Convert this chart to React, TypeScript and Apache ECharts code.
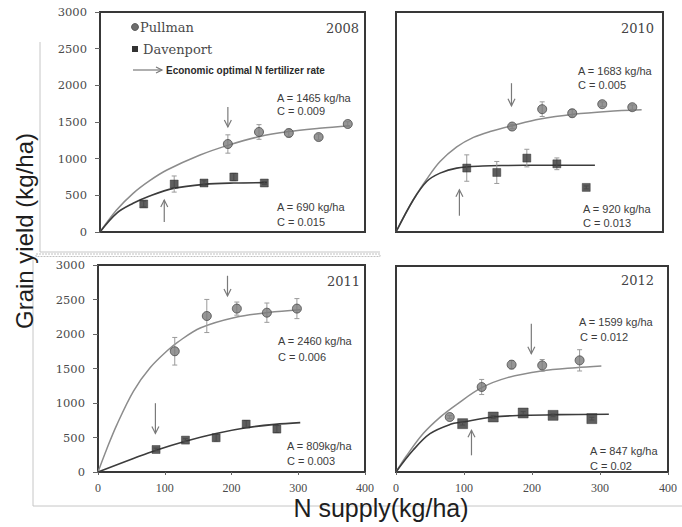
import React, { useEffect, useRef } from "react";
import * as echarts from "echarts";

// ---------- data ----------
const X_MAX = 400;
const Y_MAX = 3000;
const YEARS = ["2008", "2010", "2011", "2012"];

// observed points [N supply, yield]
const pullman2008 = [[193, 1200], [240, 1364], [285, 1350], [330, 1295], [374, 1473]];
const davenport2008 = [[66, 382], [112, 654], [157, 668], [202, 750], [248, 668]];
const pullman2010 = [[174, 1438], [219, 1675], [264, 1620], [309, 1743], [354, 1702]];
const davenport2010 = [[106, 872], [151, 812], [196, 1008], [241, 930], [285, 608]];
const pullman2011 = [[115, 1750], [163, 2261], [208, 2368], [253, 2309], [298, 2368]];
const davenport2011 = [[87, 326], [131, 462], [177, 496], [222, 695], [268, 622]];
const pullman2012 = [[79, 801], [126, 1238], [170, 1563], [215, 1553], [270, 1626]];
const davenport2012 = [[98, 704], [143, 801], [187, 859], [231, 825], [288, 777]];

// error bar half-widths, in the same order as the points
const pullmanErr2008 = [125, 100, 50, 40, 30];
const davenportErr2008 = [40, 110, 30, 50, 20];
const pullmanErr2010 = [30, 100, 50, 30, 30];
const davenportErr2010 = [180, 150, 120, 80, 20];
const pullmanErr2011 = [200, 240, 95, 140, 145];
const davenportErr2011 = [20, 20, 50, 50, 50];
const pullmanErr2012 = [20, 110, 60, 85, 155];
const davenportErr2012 = [20, 20, 20, 20, 20];

// fitted response curves
const pullmanCurve2008 = [[0, 0], [25, 300], [50, 527], [75, 700], [101, 845], [151, 1050], [194, 1185], [240, 1300], [285, 1370], [331, 1415], [377, 1450]];
const davenportCurve2008 = [[0, 0], [25, 255], [50, 391], [75, 491], [111, 595], [157, 650], [202, 668], [252, 673]];
const pullmanCurve2010 = [[0, 0], [26, 440], [46, 720], [66, 960], [91, 1160], [116, 1290], [141, 1370], [174, 1450], [216, 1540], [266, 1605], [316, 1643], [368, 1666]];
const davenportCurve2010 = [[0, 0], [26, 440], [46, 689], [66, 803], [91, 871], [130, 900], [166, 907], [216, 910], [298, 910]];
const pullmanCurve2011 = [[0, 0], [13, 330], [28, 680], [53, 1170], [78, 1510], [104, 1760], [119, 1880], [154, 2090], [205, 2240], [255, 2310], [303, 2350]];
const davenportCurve2011 = [[0, 0], [53, 195], [87, 316], [131, 447], [177, 559], [222, 642], [265, 690], [303, 715]];
const pullmanCurve2012 = [[0, 0], [15, 230], [40, 560], [65, 800], [90, 990], [126, 1228], [164, 1374], [214, 1471], [264, 1519], [302, 1544]];
const davenportCurve2012 = [[0, 0], [25, 316], [50, 558], [80, 694], [98, 728], [143, 801], [187, 825], [239, 835], [313, 840]];

// economic optimal N rate arrows [N, yield at tail, yield at head]
const arrows2008 = [[193, 1705, 1432], [97, 136, 436]];
const arrows2010 = [[173, 2029, 1721], [95, 222, 576]];
const arrows2011 = [[194, 2844, 2552], [86, 997, 559]];
const arrows2012 = [[199, 2160, 1723], [111, 243, 607]];

// fit parameters
const fitLabels = [
  ["A = 1465 kg/ha", "C = 0.009", "A = 690 kg/ha", "C = 0.015"],
  ["A = 1683 kg/ha", "C = 0.005", "A = 920 kg/ha", "C = 0.013"],
  ["A = 2460 kg/ha", "C = 0.006", "A = 809kg/ha", "C = 0.003"],
  ["A = 1599 kg/ha", "C = 0.012", "A = 847 kg/ha", "C = 0.02"],
];

const panels = [
  { pP: pullman2008, dP: davenport2008, pE: pullmanErr2008, dE: davenportErr2008, pC: pullmanCurve2008, dC: davenportCurve2008, ar: arrows2008 },
  { pP: pullman2010, dP: davenport2010, pE: pullmanErr2010, dE: davenportErr2010, pC: pullmanCurve2010, dC: davenportCurve2010, ar: arrows2010 },
  { pP: pullman2011, dP: davenport2011, pE: pullmanErr2011, dE: davenportErr2011, pC: pullmanCurve2011, dC: davenportCurve2011, ar: arrows2011 },
  { pP: pullman2012, dP: davenport2012, pE: pullmanErr2012, dE: davenportErr2012, pC: pullmanCurve2012, dC: davenportCurve2012, ar: arrows2012 },
];

// ---------- layout ----------
const grids = [
  { left: 100, top: 12, width: 265, height: 220 },
  { left: 396, top: 12, width: 267, height: 220 },
  { left: 98, top: 265, width: 267, height: 207 },
  { left: 396, top: 266, width: 272, height: 206 },
];
const showY = [true, false, true, false];
const showX = [false, false, true, true];
const yearPos = [[359, 28], [654, 28], [360, 281], [654, 280]];
const fitPos = [
  [[277, 98], [277, 111], [277, 207], [277, 222]],
  [[578, 71], [578, 85], [583, 209], [583, 223]],
  [[278, 341], [278, 357], [287, 446], [287, 461]],
  [[579, 322], [580, 337], [590, 451], [590, 466]],
];

const errRender = (params: any, api: any) => {
  const x = api.value(0), y = api.value(1), e = api.value(2);
  const t = api.coord([x, y + e]);
  const b = api.coord([x, y - e]);
  const st = { stroke: "#9a9a9a", lineWidth: 1 };
  return {
    type: "group",
    children: [
      { type: "line", shape: { x1: t[0], y1: t[1], x2: b[0], y2: b[1] }, style: st },
      { type: "line", shape: { x1: t[0] - 2.5, y1: t[1], x2: t[0] + 2.5, y2: t[1] }, style: st },
      { type: "line", shape: { x1: b[0] - 2.5, y1: b[1], x2: b[0] + 2.5, y2: b[1] }, style: st },
    ],
  };
};

const arrowRender = (params: any, api: any) => {
  const x = api.value(0), y1 = api.value(1), y2 = api.value(2);
  const p1 = api.coord([x, y1]);
  const p2 = api.coord([x, y2]);
  const dir = p2[1] > p1[1] ? 1 : -1;
  const st = { stroke: "#7a7a7a", lineWidth: 1.2, fill: "none" };
  return {
    type: "group",
    children: [
      { type: "line", shape: { x1: p1[0], y1: p1[1], x2: p2[0], y2: p2[1] }, style: st },
      { type: "polyline", shape: { points: [[p2[0] - 3.5, p2[1] - dir * 7], [p2[0], p2[1]], [p2[0] + 3.5, p2[1] - dir * 7]] }, style: st },
    ],
  };
};

export default function App() {
  const ref = useRef<HTMLDivElement>(null);
  useEffect(() => {
    if (!ref.current) return;
    const chart = echarts.init(ref.current, null, { renderer: "svg" });

    const series: any[] = [];
    panels.forEach((p, i) => {
      const ax = { xAxisIndex: i, yAxisIndex: i };
      series.push({ type: "line", name: "PullmanFit" + i, ...ax, data: p.pC, smooth: 0.35, showSymbol: false, symbol: "none", lineStyle: { color: "#8c8c8c", width: 1.5 }, z: 2, silent: true });
      series.push({ type: "line", name: "DavenportFit" + i, ...ax, data: p.dC, smooth: 0.35, showSymbol: false, symbol: "none", lineStyle: { color: "#3c3c3c", width: 1.6 }, z: 2, silent: true });
      series.push({ type: "custom", ...ax, renderItem: errRender, data: p.pP.map((d, k) => [d[0], d[1], p.pE[k]]), encode: { x: 0, y: 1 }, z: 3, silent: true });
      series.push({ type: "custom", ...ax, renderItem: errRender, data: p.dP.map((d, k) => [d[0], d[1], p.dE[k]]), encode: { x: 0, y: 1 }, z: 3, silent: true });
      series.push({ type: "scatter", name: "Pullman", ...ax, data: p.pP, symbol: "circle", symbolSize: 9, itemStyle: { color: "#7c7c7c", borderColor: "#4a4a4a", borderWidth: 1 }, z: 4 });
      series.push({ type: "scatter", name: "Davenport", ...ax, data: p.dP, symbol: "rect", symbolSize: i === 3 ? 10 : 8, itemStyle: { color: "#363636", borderColor: "#222", borderWidth: 0.5 }, z: 4 });
      series.push({ type: "custom", ...ax, renderItem: arrowRender, data: p.ar, encode: { x: 0, y: [1, 2] }, z: 5, silent: true });
    });

    const graphic: any[] = [];
    // faint frame lines from the source figure
    const frame = { stroke: "#c6c6c6", lineWidth: 1 };
    graphic.push({ type: "line", shape: { x1: 40, y1: 42, x2: 40, y2: 252 }, style: frame, silent: true });
    graphic.push({ type: "line", shape: { x1: 40, y1: 252, x2: 380, y2: 252 }, style: frame, silent: true });
    graphic.push({ type: "rect", shape: { x: 36, y: 254, width: 344, height: 2.5 }, style: { stroke: "#c0c0c0", lineWidth: 1, lineDash: [2, 1], fill: "none" }, silent: true });
    graphic.push({ type: "line", shape: { x1: 33, y1: 257, x2: 33, y2: 506 }, style: frame, silent: true });
    graphic.push({ type: "line", shape: { x1: 33, y1: 506, x2: 682, y2: 506 }, style: frame, silent: true });

    // axis titles
    graphic.push({ type: "text", x: 24, y: 231, rotation: Math.PI / 2, style: { text: "Grain yield (kg/ha)", font: "24px 'Liberation Sans'", fill: "#1e1e1e", align: "center", verticalAlign: "middle" }, z: 10 });
    graphic.push({ type: "text", x: 381, y: 508, style: { text: "N supply(kg/ha)", font: "25px 'Liberation Sans'", fill: "#1e1e1e", align: "center", verticalAlign: "middle" }, z: 10 });

    // legend (panel 2008)
    graphic.push({ type: "circle", shape: { cx: 135, cy: 27, r: 3.5 }, style: { fill: "#6e6e6e", stroke: "#4a4a4a", lineWidth: 0.8 }, z: 10 });
    graphic.push({ type: "text", x: 140, y: 27, style: { text: "Pullman", font: "13px 'DejaVu Serif'", fill: "#4a4a4a", verticalAlign: "middle" }, z: 10 });
    graphic.push({ type: "rect", shape: { x: 132, y: 46, width: 6, height: 6 }, style: { fill: "#333" }, z: 10 });
    graphic.push({ type: "text", x: 143, y: 49, style: { text: "Davenport", font: "13px 'DejaVu Serif'", fill: "#4a4a4a", verticalAlign: "middle" }, z: 10 });
    graphic.push({ type: "line", shape: { x1: 133, y1: 70, x2: 162, y2: 70 }, style: { stroke: "#7a7a7a", lineWidth: 1.2 }, z: 10 });
    graphic.push({ type: "polyline", shape: { points: [[156, 67], [162, 70], [156, 73]] }, style: { stroke: "#7a7a7a", lineWidth: 1.2, fill: "none" }, z: 10 });
    graphic.push({ type: "text", x: 166, y: 70, style: { text: "Economic optimal N fertilizer rate", font: "bold 10px 'Liberation Sans'", fill: "#2a2a2a", verticalAlign: "middle" }, z: 10 });

    // year labels and fit parameters
    YEARS.forEach((yr, i) => {
      graphic.push({ type: "text", x: yearPos[i][0], y: yearPos[i][1], style: { text: yr, font: "13px 'DejaVu Serif'", fill: "#444", align: "right", verticalAlign: "middle" }, z: 10 });
      fitLabels[i].forEach((t, k) => {
        graphic.push({ type: "text", x: fitPos[i][k][0], y: fitPos[i][k][1], style: { text: t, font: "11px 'Liberation Sans'", fill: "#3c3c3c", verticalAlign: "middle" }, z: 10 });
      });
    });

    const option: any = {
      animation: false,
      backgroundColor: "#ffffff",
      grid: grids.map((g) => ({ ...g, show: true, borderColor: "#383838", borderWidth: 2, backgroundColor: "transparent", containLabel: false })),
      xAxis: grids.map((g, i) => ({
        type: "value", gridIndex: i, min: 0, max: X_MAX, interval: 100,
        axisLine: { show: false }, splitLine: { show: false },
        axisTick: { show: showX[i], length: 3, lineStyle: { color: "#666" } },
        axisLabel: { show: showX[i], margin: 10, color: "#4a4a4a", fontFamily: "'Liberation Serif'", fontSize: 12, formatter: (v: number) => String(v) },
      })),
      yAxis: grids.map((g, i) => ({
        type: "value", gridIndex: i, min: 0, max: Y_MAX, interval: 500,
        axisLine: { show: false }, splitLine: { show: false },
        axisTick: { show: showY[i], length: 5, lineStyle: { color: "#666" } },
        axisLabel: { show: showY[i], margin: 13, color: "#4a4a4a", fontFamily: "'DejaVu Serif'", fontSize: 11.5, formatter: (v: number) => String(v) },
      })),
      series,
      graphic,
    };
    chart.setOption(option);
    return () => chart.dispose();
  }, []);

  return <div ref={ref} style={{ position: "fixed", left: 0, top: 0, width: 682, height: 527, background: "#fff" }} />;
}
